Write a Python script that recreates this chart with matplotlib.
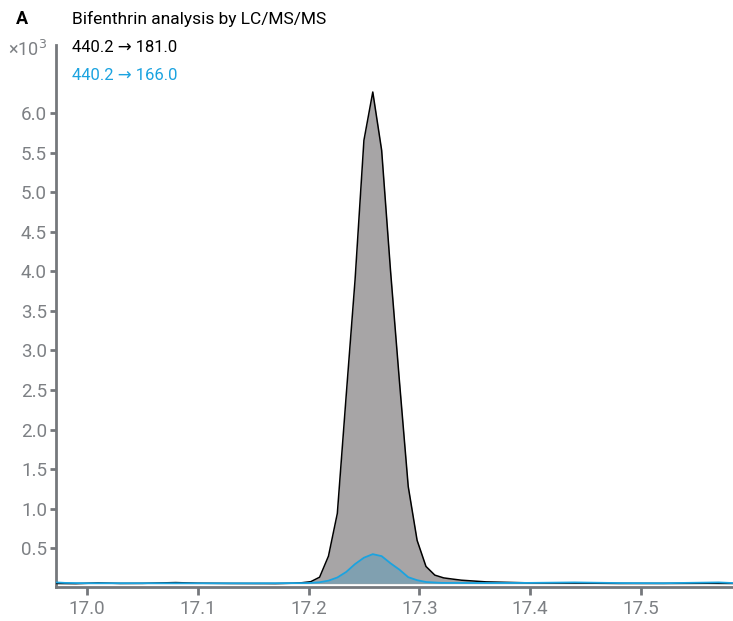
import numpy as np
import matplotlib
matplotlib.use("Agg")
import matplotlib.pyplot as plt

plt.rcParams['font.family'] = ['Roboto', 'DejaVu Sans']

# retention time (min) and intensity (x10^3)
t_181 = [16.972, 16.99, 17.01, 17.03, 17.05, 17.08, 17.10, 17.13, 17.16, 17.17,
         17.1859, 17.1939, 17.2019, 17.2099, 17.2179, 17.2259, 17.2339, 17.2419,
         17.2499, 17.2579, 17.2659, 17.2739, 17.2819, 17.2899, 17.2979, 17.3059,
         17.3139, 17.3219, 17.3299, 17.3379, 17.36, 17.40, 17.44, 17.48, 17.52,
         17.56, 17.583]
i_181 = [0.055, 0.052, 0.062, 0.055, 0.056, 0.066, 0.058, 0.055, 0.054, 0.053,
         0.058, 0.064, 0.077, 0.134, 0.40, 0.94, 2.43, 3.89,
         5.655, 6.266, 5.53, 4.01, 2.62, 1.28, 0.60, 0.27,
         0.16, 0.125, 0.11, 0.096, 0.075, 0.062, 0.060, 0.055, 0.055,
         0.057, 0.055]

t_166 = [16.972, 16.98, 17.00, 17.05, 17.10, 17.15, 17.20, 17.2099, 17.2179,
         17.2259, 17.2339, 17.2419, 17.2499, 17.2579, 17.2659, 17.2739, 17.2819,
         17.2899, 17.2979, 17.3059, 17.32, 17.36, 17.40, 17.44, 17.48, 17.52,
         17.57, 17.583]
i_166 = [0.068, 0.062, 0.058, 0.058, 0.057, 0.057, 0.060, 0.070, 0.09,
         0.13, 0.20, 0.30, 0.38, 0.425, 0.40, 0.31, 0.23,
         0.134, 0.096, 0.073, 0.062, 0.060, 0.062, 0.068, 0.060, 0.058,
         0.068, 0.060]

x_ticks = [17.0, 17.1, 17.2, 17.3, 17.4, 17.5]
y_ticks = [0.5, 1.0, 1.5, 2.0, 2.5, 3.0, 3.5, 4.0, 4.5, 5.0, 5.5, 6.0]

label_181 = "440.2 \u2192 181.0"
label_166 = "440.2 \u2192 166.0"
title = "Bifenthrin analysis by LC/MS/MS"
panel = "A"

W, H = 733, 621
fig = plt.figure(figsize=(W / 100, H / 100), dpi=100)
ax = fig.add_axes([56 / W, 1 - 587 / H, 1 - 56 / W, (587 - 45) / H])

t1 = np.array(t_181); y1 = np.array(i_181)
t2 = np.array(t_166); y2 = np.array(i_166)

ax.fill_between(t1, y1, y1.min(), color="#a7a5a6", lw=0, zorder=1)
ax.plot(t1, y1, color="black", lw=1.1, zorder=3)
ax.fill_between(t2, y2, y2.min(), color="#80a0b0", lw=0, zorder=2)
ax.plot(t2, y2, color="#1ba3e0", lw=1.3, zorder=4)

ax.set_xlim(16.972, 17.583)
ax.set_ylim(0.01, 6.86)
ax.set_xticks(x_ticks)
ax.set_xticklabels([f"{v:.1f}" for v in x_ticks])
ax.set_yticks(y_ticks)
ax.set_yticklabels([f"{v:.1f}" for v in y_ticks])

grey = "#75787c"
lab_grey = "#7d8084"
for s in ["top", "right"]:
    ax.spines[s].set_visible(False)
for s in ["left", "bottom"]:
    ax.spines[s].set_color(grey)
    ax.spines[s].set_linewidth(2)
ax.tick_params(axis="both", colors=grey, labelcolor=lab_grey, labelsize=13.5, width=2)
ax.tick_params(axis="y", length=4, pad=2.5)
ax.tick_params(axis="x", length=6, pad=3)

fig.text(22 / W, 1 - 19 / H, panel, fontsize=13, fontweight="bold", ha="center", va="center")
fig.text(72 / W, 1 - 19 / H, title, fontsize=12.5, ha="left", va="center")
fig.text(72 / W, 1 - 47 / H, label_181, fontsize=12, ha="left", va="center", color="black")
fig.text(72 / W, 1 - 75 / H, label_166, fontsize=12, ha="left", va="center", color="#1ba3e0")
fig.text(47 / W, 1 - 50 / H, "\u00d710$^3$", fontsize=13, ha="right", va="center", color=lab_grey)

fig.savefig("out.png", dpi=100)
